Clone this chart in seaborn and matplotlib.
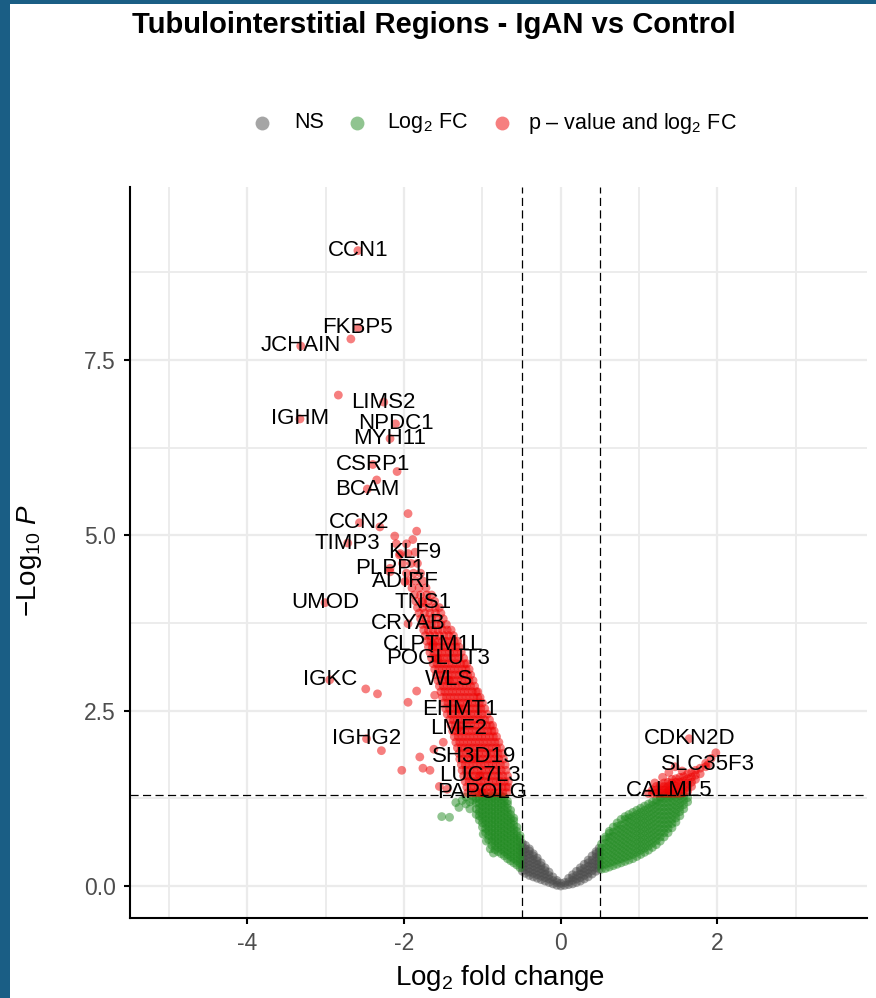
import math
import matplotlib
matplotlib.use("Agg")
import matplotlib.pyplot as plt
import seaborn as sns
import pandas as pd
from matplotlib.patches import Rectangle
from matplotlib.lines import Line2D
from matplotlib.ticker import FixedLocator

# ---------------- data ----------------
# Not significant (grey) cloud, column by column: (log2FC, [-log10 P values])
NS_COLUMNS = [
    (0.00, [0.00, 0.04]),
    (-0.05, [0.01, 0.05, 0.08]),
    (-0.10, [0.03, 0.08, 0.13]),
    (-0.15, [0.05, 0.10, 0.15, 0.20]),
    (-0.20, [0.07, 0.12, 0.17, 0.22, 0.26]),
    (-0.25, [0.09, 0.14, 0.19, 0.24, 0.29, 0.33]),
    (-0.30, [0.11, 0.16, 0.21, 0.26, 0.31, 0.36, 0.40]),
    (-0.35, [0.13, 0.18, 0.23, 0.28, 0.33, 0.38, 0.43, 0.46]),
    (-0.40, [0.15, 0.20, 0.25, 0.30, 0.35, 0.40, 0.45, 0.50, 0.53]),
    (-0.45, [0.18, 0.23, 0.28, 0.33, 0.38, 0.43, 0.48, 0.53, 0.58]),
    (-0.49, [0.21, 0.26, 0.31, 0.36, 0.41, 0.46, 0.51, 0.56, 0.61]),
    (0.05, [0.01, 0.05]),
    (0.10, [0.02, 0.06, 0.11]),
    (0.15, [0.03, 0.08, 0.12, 0.16]),
    (0.20, [0.05, 0.10, 0.15, 0.21]),
    (0.25, [0.07, 0.12, 0.17, 0.22, 0.26]),
    (0.30, [0.10, 0.15, 0.20, 0.25, 0.31]),
    (0.35, [0.13, 0.18, 0.23, 0.28, 0.33, 0.37]),
    (0.40, [0.17, 0.22, 0.27, 0.32, 0.37, 0.43]),
    (0.45, [0.21, 0.26, 0.31, 0.36, 0.41, 0.46, 0.49]),
    (0.49, [0.24, 0.29, 0.34, 0.39, 0.44, 0.49, 0.54]),
]

# Log2 FC only (green) cloud, column by column
FC_COLUMNS = [
    (-0.52, [0.26, 0.32, 0.38, 0.44, 0.50, 0.56, 0.62, 0.68, 0.72]),
    (-0.56, [0.30, 0.36, 0.42, 0.48, 0.54, 0.60, 0.66, 0.72, 0.78, 0.84]),
    (-0.60, [0.33, 0.39, 0.45, 0.51, 0.57, 0.63, 0.69, 0.75, 0.81, 0.87, 0.93, 0.97]),
    (-0.64, [0.36, 0.42, 0.48, 0.54, 0.60, 0.66, 0.72, 0.78, 0.84, 0.90, 0.96, 1.02, 1.08]),
    (-0.68, [0.39, 0.45, 0.51, 0.57, 0.63, 0.69, 0.75, 0.81, 0.87, 0.93, 0.99, 1.05, 1.11, 1.17, 1.21]),
    (-0.72, [0.43, 0.49, 0.55, 0.61, 0.67, 0.73, 0.79, 0.85, 0.91, 0.97, 1.03, 1.09, 1.15, 1.21, 1.27]),
    (-0.76, [0.46, 0.52, 0.58, 0.64, 0.70, 0.76, 0.82, 0.88, 0.94, 1.00, 1.06, 1.12, 1.18, 1.24, 1.28]),
    (-0.80, [0.49, 0.55, 0.61, 0.67, 0.73, 0.79, 0.85, 0.91, 0.97, 1.03, 1.09, 1.15, 1.21, 1.27]),
    (-0.84, [0.52, 0.58, 0.64, 0.70, 0.76, 0.82, 0.88, 0.94, 1.00, 1.06, 1.12, 1.18, 1.24, 1.29]),
    (-0.88, [0.58, 0.64, 0.70, 0.76, 0.82, 0.88, 0.94, 1.00, 1.06, 1.12, 1.18, 1.24, 1.29]),
    (-0.92, [0.66, 0.72, 0.78, 0.84, 0.90, 0.96, 1.02, 1.08, 1.14, 1.20, 1.26]),
    (-0.96, [0.76, 0.82, 0.88, 0.94, 1.00, 1.06, 1.12, 1.18, 1.24, 1.29]),
    (-1.00, [0.84, 0.90, 0.96, 1.02, 1.08, 1.14, 1.20, 1.26]),
    (-1.04, [0.94, 1.00, 1.06, 1.12, 1.18, 1.24, 1.29]),
    (-1.08, [1.02, 1.10, 1.18, 1.25]),
    (-1.12, [1.22, 1.28]),
    (-1.16, [1.10, 1.20]),
    (-1.21, [1.17, 1.27]),
    (-1.26, [1.22]),
    (-1.30, [1.12]),
    (-1.34, [1.19]),
    (-1.42, [0.98]),
    (-1.52, [0.99]),
    (-0.86, [0.47]),
    (-0.90, [0.53]),
    (-0.95, [0.64]),
    (-0.99, [0.74]),
    (0.52, [0.24, 0.30, 0.36, 0.42, 0.48, 0.54, 0.60]),
    (0.57, [0.25, 0.31, 0.37, 0.43, 0.49, 0.55, 0.61, 0.67, 0.70]),
    (0.62, [0.27, 0.33, 0.39, 0.45, 0.51, 0.57, 0.63, 0.69, 0.75, 0.78]),
    (0.67, [0.29, 0.35, 0.41, 0.47, 0.53, 0.59, 0.65, 0.71, 0.77, 0.84]),
    (0.72, [0.31, 0.37, 0.43, 0.49, 0.55, 0.61, 0.67, 0.73, 0.79, 0.85, 0.90]),
    (0.77, [0.33, 0.39, 0.45, 0.51, 0.57, 0.63, 0.69, 0.75, 0.81, 0.87, 0.95]),
    (0.82, [0.35, 0.41, 0.47, 0.53, 0.59, 0.65, 0.71, 0.77, 0.83, 0.89, 0.95, 0.99]),
    (0.87, [0.37, 0.43, 0.49, 0.55, 0.61, 0.67, 0.73, 0.79, 0.85, 0.91, 0.97, 1.02]),
    (0.92, [0.39, 0.45, 0.51, 0.57, 0.63, 0.69, 0.75, 0.81, 0.87, 0.93, 0.99, 1.05]),
    (0.97, [0.42, 0.48, 0.54, 0.60, 0.66, 0.72, 0.78, 0.84, 0.90, 0.96, 1.02, 1.08]),
    (1.02, [0.45, 0.51, 0.57, 0.63, 0.69, 0.75, 0.81, 0.87, 0.93, 0.99, 1.05, 1.11]),
    (1.07, [0.48, 0.54, 0.60, 0.66, 0.72, 0.78, 0.84, 0.90, 0.96, 1.02, 1.08, 1.14]),
    (1.12, [0.51, 0.57, 0.63, 0.69, 0.75, 0.81, 0.87, 0.93, 0.99, 1.05, 1.11, 1.17]),
    (1.17, [0.55, 0.61, 0.67, 0.73, 0.79, 0.85, 0.91, 0.97, 1.03, 1.09, 1.15, 1.20]),
    (1.22, [0.59, 0.65, 0.71, 0.77, 0.83, 0.89, 0.95, 1.01, 1.07, 1.13, 1.19, 1.23]),
    (1.27, [0.64, 0.70, 0.76, 0.82, 0.88, 0.94, 1.00, 1.06, 1.12, 1.18, 1.24, 1.27]),
    (1.32, [0.70, 0.76, 0.82, 0.88, 0.94, 1.00, 1.06, 1.12, 1.18, 1.24, 1.29]),
    (1.37, [0.76, 0.82, 0.88, 0.94, 1.00, 1.06, 1.12, 1.18, 1.24, 1.29]),
    (1.42, [0.83, 0.89, 0.95, 1.01, 1.07, 1.13, 1.19, 1.25, 1.29]),
    (1.47, [0.91, 0.97, 1.03, 1.09, 1.15, 1.21, 1.27]),
    (1.52, [1.00, 1.06, 1.12, 1.18, 1.24, 1.29]),
    (1.57, [1.10, 1.16, 1.22, 1.28]),
    (1.62, [1.20, 1.26]),
]

# p-value and log2 FC (red) cloud, row by row: (-log10 P, [log2FC values])
SIG_ROWS = [
    (1.33, [-1.19, -1.14, -1.09, -1.04, -0.99, -0.94, -0.89, -0.84, -0.79, -0.74, -0.69]),
    (1.41, [-1.20, -1.15, -1.10, -1.05, -1.00, -0.95, -0.90, -0.85, -0.80, -0.75, -0.70, -0.67]),
    (1.49, [-1.22, -1.17, -1.12, -1.07, -1.02, -0.97, -0.92, -0.87, -0.82, -0.77, -0.72, -0.67]),
    (1.57, [-1.24, -1.19, -1.14, -1.09, -1.04, -0.99, -0.94, -0.89, -0.84, -0.79, -0.74, -0.68]),
    (1.65, [-1.26, -1.21, -1.16, -1.11, -1.06, -1.01, -0.96, -0.91, -0.86, -0.81, -0.76, -0.70]),
    (1.73, [-1.27, -1.22, -1.17, -1.12, -1.07, -1.02, -0.97, -0.92, -0.87, -0.82, -0.77, -0.71]),
    (1.81, [-1.29, -1.24, -1.19, -1.14, -1.09, -1.04, -0.99, -0.94, -0.89, -0.84, -0.79, -0.73]),
    (1.89, [-1.30, -1.25, -1.20, -1.15, -1.10, -1.05, -1.00, -0.95, -0.90, -0.85, -0.80, -0.75]),
    (1.97, [-1.32, -1.27, -1.22, -1.17, -1.12, -1.07, -1.02, -0.97, -0.92, -0.87, -0.82, -0.77]),
    (2.05, [-1.34, -1.29, -1.24, -1.19, -1.14, -1.09, -1.04, -0.99, -0.94, -0.89, -0.84, -0.79]),
    (2.13, [-1.36, -1.31, -1.26, -1.21, -1.16, -1.11, -1.06, -1.01, -0.96, -0.91, -0.86, -0.82]),
    (2.21, [-1.38, -1.33, -1.28, -1.23, -1.18, -1.13, -1.08, -1.03, -0.98, -0.93, -0.88, -0.85]),
    (2.29, [-1.40, -1.35, -1.30, -1.25, -1.20, -1.15, -1.10, -1.05, -1.00, -0.95, -0.90, -0.87]),
    (2.37, [-1.42, -1.37, -1.32, -1.27, -1.22, -1.17, -1.12, -1.07, -1.02, -0.97, -0.91]),
    (2.45, [-1.45, -1.40, -1.35, -1.30, -1.25, -1.20, -1.15, -1.10, -1.05, -1.00, -0.94]),
    (2.53, [-1.47, -1.42, -1.37, -1.32, -1.27, -1.22, -1.17, -1.12, -1.07, -1.02, -0.97]),
    (2.61, [-1.49, -1.44, -1.39, -1.34, -1.29, -1.24, -1.19, -1.14, -1.09, -1.04, -1.00]),
    (2.69, [-1.51, -1.46, -1.41, -1.36, -1.31, -1.26, -1.21, -1.16, -1.11, -1.06, -1.03]),
    (2.77, [-1.53, -1.48, -1.43, -1.38, -1.33, -1.28, -1.23, -1.18, -1.13, -1.08, -1.06]),
    (2.85, [-1.55, -1.50, -1.45, -1.40, -1.35, -1.30, -1.25, -1.20, -1.15, -1.10]),
    (2.93, [-1.57, -1.52, -1.47, -1.42, -1.37, -1.32, -1.27, -1.22, -1.17, -1.12]),
    (3.01, [-1.59, -1.54, -1.49, -1.44, -1.39, -1.34, -1.29, -1.24, -1.19, -1.15]),
    (3.09, [-1.61, -1.56, -1.51, -1.46, -1.41, -1.36, -1.31, -1.26, -1.21, -1.17]),
    (3.17, [-1.63, -1.58, -1.53, -1.48, -1.43, -1.38, -1.33, -1.28, -1.23, -1.20]),
    (3.25, [-1.65, -1.60, -1.55, -1.50, -1.45, -1.40, -1.35, -1.30, -1.24]),
    (3.33, [-1.67, -1.62, -1.57, -1.52, -1.47, -1.42, -1.37, -1.32, -1.27]),
    (3.41, [-1.69, -1.64, -1.59, -1.54, -1.49, -1.44, -1.39, -1.34, -1.30]),
    (3.49, [-1.71, -1.66, -1.61, -1.56, -1.51, -1.46, -1.41, -1.36, -1.32]),
    (3.57, [-1.73, -1.67, -1.61, -1.55, -1.49, -1.43, -1.37]),
    (3.65, [-1.75, -1.69, -1.63, -1.57, -1.51, -1.45, -1.40]),
    (3.73, [-1.77, -1.71, -1.65, -1.59, -1.53, -1.46]),
    (3.81, [-1.79, -1.72, -1.65, -1.58, -1.50]),
    (3.89, [-1.81, -1.74, -1.67, -1.60, -1.53]),
    (3.97, [-1.83, -1.76, -1.68, -1.60, -1.55]),
    (4.06, [-1.85, -1.77, -1.69, -1.61]),
    (4.15, [-1.87, -1.79, -1.71, -1.65]),
    (4.25, [-1.90, -1.81, -1.72]),
    (4.35, [-1.94, -1.85, -1.76]),
    (4.46, [-1.97, -1.88, -1.79]),
    (4.60, [-2.02, -1.91, -1.83]),
    (4.74, [-2.05, -1.95]),
    (4.88, [-2.10, -1.97]),
    (5.31, [-1.95]),
    (5.06, [-1.84]),
    (4.99, [-2.12]),
    (5.12, [-2.31]),
    (4.94, [-1.89]),
    (4.72, [-2.06]),
    (4.48, [-2.18]),
    (7.00, [-2.84]),
    (7.80, [-2.68]),
    (5.91, [-2.09]),
    (5.79, [-2.35]),
    (2.81, [-2.49]),
    (2.74, [-2.34]),
    (2.78, [-1.84]),
    (2.62, [-1.95]),
    (2.72, [-1.61]),
    (1.93, [-2.29]),
    (1.65, [-2.03, -1.67]),
    (1.68, [-1.76]),
    (1.84, [-1.80]),
    (1.42, [-1.55]),
    (1.38, [-1.45]),
    (1.95, [-1.62]),
    (2.05, [-1.50]),
    (1.32, [1.12, 1.17, 1.22, 1.27, 1.32, 1.37, 1.42, 1.47, 1.52]),
    (1.33, [1.57]),
    (1.35, [1.62]),
    (1.37, [1.17, 1.22, 1.27, 1.32, 1.37, 1.42, 1.47, 1.52]),
    (1.38, [1.57]),
    (1.41, [1.62]),
    (1.42, [1.22, 1.32, 1.37, 1.42, 1.52, 1.67]),
    (1.43, [1.27, 1.47]),
    (1.44, [1.57]),
    (1.47, [1.20, 1.32, 1.42, 1.62]),
    (1.48, [1.37, 1.47, 1.52, 1.67]),
    (1.50, [1.57]),
    (1.52, [1.42, 1.72]),
    (1.53, [1.47, 1.62]),
    (1.55, [1.30, 1.52, 1.67]),
    (1.56, [1.57]),
    (1.58, [1.72]),
    (1.60, [1.62, 1.78]),
    (1.62, [1.38, 1.67]),
    (1.64, [1.55]),
    (1.65, [1.72]),
    (1.68, [1.78]),
    (1.70, [1.46, 1.85]),
    (1.75, [1.85]),
    (1.82, [1.92]),
    (1.90, [1.98]),
]

# Labelled genes (label sits on its point)
LABEL_GENES = ["CCN1", "FKBP5", "JCHAIN", "LIMS2", "IGHM", "NPDC1", "MYH11", "CSRP1",
               "BCAM", "CCN2", "TIMP3", "KLF9", "PLPP1", "ADIRF", "UMOD", "TNS1",
               "CRYAB", "CLPTM1L", "POGLUT3", "WLS", "IGKC", "EHMT1", "LMF2", "IGHG2",
               "SH3D19", "LUC7L3", "PAPOLG", "CDKN2D", "SLC35F3", "CALML5"]
LABEL_LOG2FC = [-2.59, -2.59, -3.32, -2.26, -3.33, -2.11, -2.18, -2.40,
                -2.47, -2.57, -2.72, -1.86, -2.18, -1.99, -3.01, -1.76,
                -1.95, -1.63, -1.57, -1.43, -2.95, -1.29, -1.31, -2.48,
                -1.11, -1.03, -1.01, 1.64, 1.88, 1.38]
LABEL_LOG10P = [9.06, 7.96, 7.70, 6.90, 6.66, 6.59, 6.38, 6.01,
                5.66, 5.18, 4.89, 4.76, 4.53, 4.34, 4.04, 4.04,
                3.74, 3.45, 3.24, 2.94, 2.94, 2.52, 2.25, 2.10,
                1.84, 1.57, 1.33, 2.10, 1.73, 1.36]

CATEGORIES = ["NS", "Log2 FC", "p-value and log2 FC"]
LEGEND_TEXT = ["NS", "Log$_2$ FC", "p \u2013 value and log$_2$ FC"]
FC_CUTOFF = 0.5
P_CUTOFF = 0.05
X_TICKS = [-4, -2, 0, 2]
Y_TICKS = [0.0, 2.5, 5.0, 7.5]
TITLE = "Tubulointerstitial Regions - IgAN vs Control"

# ---------------- build table ----------------
rows = []
for x, ys in NS_COLUMNS:
    for y in ys:
        rows.append((x, y, CATEGORIES[0]))
for x, ys in FC_COLUMNS:
    for y in ys:
        rows.append((x, y, CATEGORIES[1]))
for y, xs in SIG_ROWS:
    for x in xs:
        rows.append((x, y, CATEGORIES[2]))
for x, y in zip(LABEL_LOG2FC, LABEL_LOG10P):
    rows.append((x, y, CATEGORIES[2]))
df = pd.DataFrame(rows, columns=["log2FC", "nlog10P", "group"])

# ---------------- style ----------------
sns.set_theme(style="white")
plt.rcParams["font.family"] = ["Liberation Sans", "DejaVu Sans"]
plt.rcParams["mathtext.fontset"] = "custom"
plt.rcParams["mathtext.rm"] = "Liberation Sans"
plt.rcParams["mathtext.it"] = "Liberation Sans:italic"
plt.rcParams["mathtext.bf"] = "Liberation Sans:bold"

COLORS = {CATEGORIES[0]: "#4D4D4D", CATEGORIES[1]: "#228B22", CATEGORIES[2]: "#EE0000"}

W, H = 876, 998
fig = plt.figure(figsize=(W / 100, H / 100), dpi=100)
fig.patch.set_facecolor("white")
# dark-blue frame (left and top)
fig.add_artist(Rectangle((0, 0), 10 / W, 1, transform=fig.transFigure,
                         facecolor="#1A5E85", edgecolor="none", zorder=0))
fig.add_artist(Rectangle((0, 1 - 4 / H), 1, 4 / H, transform=fig.transFigure,
                         facecolor="#1A5E85", edgecolor="none", zorder=0))

ax = fig.add_axes([130 / W, 1 - 918 / H, (867 - 130) / W, (918 - 187) / H])

sns.scatterplot(data=df, x="log2FC", y="nlog10P", hue="group", palette=COLORS,
                s=40, alpha=0.5, linewidth=0, edgecolor="none", legend=False,
                ax=ax, zorder=3)

ax.set_xlim(-5.5, 3.91)
ax.set_ylim(-0.456, 9.967)
ax.xaxis.set_major_locator(FixedLocator(X_TICKS))
ax.xaxis.set_minor_locator(FixedLocator([-5, -3, -1, 1, 3]))
ax.yaxis.set_major_locator(FixedLocator(Y_TICKS))
ax.yaxis.set_minor_locator(FixedLocator([1.25, 3.75, 6.25, 8.75]))
ax.set_xticklabels([str(t) for t in X_TICKS])
ax.set_yticklabels([f"{t:.1f}" for t in Y_TICKS])
ax.grid(which="major", color="#EBEBEB", linewidth=1.6, zorder=0)
ax.grid(which="minor", color="#EBEBEB", linewidth=1.3, zorder=0)
ax.set_axisbelow(True)
for s in ["top", "right"]:
    ax.spines[s].set_visible(False)
for s in ["left", "bottom"]:
    ax.spines[s].set_color("black")
    ax.spines[s].set_linewidth(1.5)
ax.tick_params(which="major", direction="out", length=4, width=1.5, color="black",
               labelsize=16.5, labelcolor="#4D4D4D", pad=6, bottom=True, left=True)
ax.tick_params(which="minor", length=0)
ax.set_xlabel("")
ax.set_ylabel("")

# cut-off lines
ycut = -math.log10(P_CUTOFF)
ax.axhline(ycut, color="black", linewidth=0.9, dashes=(6.5, 3.5), zorder=4)
ax.axvline(-FC_CUTOFF, color="black", linewidth=0.9, dashes=(6.5, 3.5), zorder=4)
ax.axvline(FC_CUTOFF, color="black", linewidth=0.9, dashes=(6.5, 3.5), zorder=4)

# gene labels
for g, x, y in zip(LABEL_GENES, LABEL_LOG2FC, LABEL_LOG10P):
    ax.text(x, y, g, ha="center", va="center", fontsize=16, color="black", zorder=6)

# title
fig.text(434 / W, 1 - 25 / H, TITLE, ha="center", va="center",
         fontsize=21, fontweight="bold", color="black")

# legend (manual, top)
leg_marker_x = [262, 357, 502]
leg_text_x = [294, 387, 528]
for cat, txt, mx, tx in zip(CATEGORIES, LEGEND_TEXT, leg_marker_x, leg_text_x):
    fig.add_artist(Line2D([mx / W], [1 - 123 / H], transform=fig.transFigure,
                          marker="o", markersize=10, linestyle="none",
                          markerfacecolor=COLORS[cat], markeredgecolor="none", alpha=0.5))
    fig.text(tx / W, 1 - 123 / H, txt, ha="left", va="center", fontsize=15.5, color="black")

# axis titles
fig.text(500 / W, 1 - 978 / H, "Log$_2$ fold change", ha="center", va="center",
         fontsize=20, color="black")
fig.text(30 / W, 1 - 560 / H, "\u2212Log$_{10}$ $P$", ha="center", va="center",
         rotation=90, fontsize=20, color="black")

fig.savefig("out.png", dpi=100, facecolor="white")
